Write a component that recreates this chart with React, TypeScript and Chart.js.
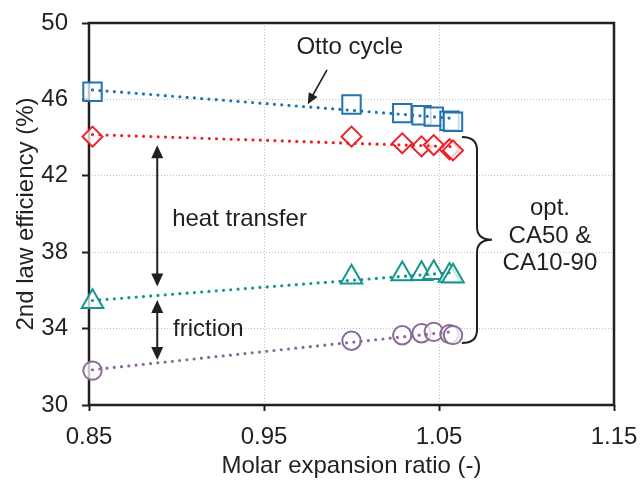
import { useEffect, useRef } from 'react';
import { Chart, registerables } from 'chart.js';

Chart.register(...registerables);

const INK = '#231f20';
const GRID = '#c2c2c2';
const FONT = "'Liberation Sans', Arial, Helvetica, sans-serif";

// Axis ticks
const xTicks = [0.85, 0.95, 1.05, 1.15];
const yTicks = [30, 34, 38, 42, 46, 50];

// Molar expansion ratio of each operating case (shared by all series)
const expansionRatio = [0.852, 1.0, 1.029, 1.04, 1.047, 1.056, 1.058];

// 2nd law efficiency (%) of each loss level
const ottoCycle = [46.4, 45.73, 45.28, 45.17, 45.1, 44.88, 44.83];
const optCombustion = [44.05, 44.05, 43.7, 43.54, 43.61, 43.39, 43.33];
const withHeatTransfer = [35.4, 36.69, 36.86, 36.87, 36.93, 36.78, 36.74];
const withFriction = [31.8, 33.36, 33.65, 33.76, 33.83, 33.71, 33.66];

const seriesValues = [ottoCycle, optCombustion, withHeatTransfer, withFriction];

// Marker styling per series
const seriesStyle = [
  { color: '#2373b1', shape: 'rect', radius: 13 },
  { color: '#ee2229', shape: 'rectRot', radius: 10 },
  { color: '#16968a', shape: 'triangle', radius: 12.5 },
  { color: '#8b6a97', shape: 'circle', radius: 9.2 },
];

function linearTrend(xs: number[], ys: number[]) {
  const n = xs.length;
  const mx = xs.reduce((a, b) => a + b, 0) / n;
  const my = ys.reduce((a, b) => a + b, 0) / n;
  let sxy = 0;
  let sxx = 0;
  for (let i = 0; i < n; i++) {
    sxy += (xs[i] - mx) * (ys[i] - my);
    sxx += (xs[i] - mx) * (xs[i] - mx);
  }
  const slope = sxy / sxx;
  const intercept = my - slope * mx;
  const lo = Math.min(...xs);
  const hi = Math.max(...xs);
  return [
    { x: lo, y: intercept + slope * lo },
    { x: hi, y: intercept + slope * hi },
  ];
}

function arrowHead(ctx: CanvasRenderingContext2D, tx: number, ty: number, fx: number, fy: number, len: number, half: number) {
  const a = Math.atan2(ty - fy, tx - fx);
  const bx = tx - Math.cos(a) * len;
  const by = ty - Math.sin(a) * len;
  ctx.beginPath();
  ctx.moveTo(tx, ty);
  ctx.lineTo(bx + Math.sin(a) * half, by - Math.cos(a) * half);
  ctx.lineTo(bx - Math.sin(a) * half, by + Math.cos(a) * half);
  ctx.closePath();
  ctx.fill();
}

function arrow(ctx: CanvasRenderingContext2D, x1: number, y1: number, x2: number, y2: number, both: boolean, len: number, half: number, width: number) {
  const a = Math.atan2(y2 - y1, x2 - x1);
  ctx.lineWidth = width;
  ctx.beginPath();
  ctx.moveTo(both ? x1 + Math.cos(a) * len * 0.8 : x1, both ? y1 + Math.sin(a) * len * 0.8 : y1);
  ctx.lineTo(x2 - Math.cos(a) * len * 0.8, y2 - Math.sin(a) * len * 0.8);
  ctx.stroke();
  arrowHead(ctx, x2, y2, x1, y1, len, half);
  if (both) arrowHead(ctx, x1, y1, x2, y2, len, half);
}

const framePlugin = {
  id: 'plotFrame',
  beforeDatasetsDraw(chart: any) {
    const { ctx, chartArea } = chart;
    const { left, right, top, bottom } = chartArea;
    ctx.save();
    ctx.strokeStyle = INK;
    ctx.lineWidth = 2.5;
    ctx.strokeRect(left, top, right - left, bottom - top);
    ctx.restore();
  },
};

const notesPlugin = {
  id: 'notes',
  afterDatasetsDraw(chart: any) {
    const { ctx } = chart;
    const px = (v: number) => chart.scales.x.getPixelForValue(v);
    const py = (v: number) => chart.scales.y.getPixelForValue(v);
    ctx.save();
    ctx.fillStyle = INK;
    ctx.strokeStyle = INK;
    ctx.font = `24px ${FONT}`;
    ctx.textBaseline = 'middle';

    // Otto cycle label and pointer
    ctx.textAlign = 'center';
    ctx.fillText('Otto cycle', px(0.999), py(48.7));
    arrow(ctx, px(0.986), py(47.55), px(0.975), py(45.75), false, 11, 5, 1.6);

    // Heat transfer gap
    arrow(ctx, px(0.889), py(43.6), px(0.889), py(36.2), true, 13, 6, 2);
    ctx.textAlign = 'left';
    ctx.fillText('heat transfer', px(0.8975), py(39.7));

    // Friction gap
    arrow(ctx, px(0.889), py(35.5), px(0.889), py(32.35), true, 13, 6, 2);
    ctx.fillText('friction', px(0.898), py(33.95));

    // Brace grouping the optimised-combustion cases
    const x0 = px(1.0631);
    const x1 = px(1.0717);
    const x2 = px(1.0803);
    const yt = py(44.03);
    const ym = py(38.65);
    const yb = py(33.25);
    const r = 13;
    ctx.lineWidth = 2;
    ctx.beginPath();
    ctx.moveTo(x0, yt);
    ctx.quadraticCurveTo(x1, yt, x1, yt + r);
    ctx.lineTo(x1, ym - r);
    ctx.quadraticCurveTo(x1, ym, x2, ym);
    ctx.quadraticCurveTo(x1, ym, x1, ym + r);
    ctx.lineTo(x1, yb - r);
    ctx.quadraticCurveTo(x1, yb, x0, yb);
    ctx.stroke();

    ctx.textAlign = 'center';
    const tx = px(1.1134);
    ctx.fillText('opt.', tx, py(40.31));
    ctx.fillText('CA50 &', tx, py(38.85));
    ctx.fillText('CA10-90', tx, py(37.43));
    ctx.restore();
  },
};

export default function App() {
  const ref = useRef<HTMLCanvasElement>(null);

  useEffect(() => {
    const markerSets = seriesValues.map((vals, i) => ({
      type: 'scatter' as const,
      data: expansionRatio.map((x, j) => ({ x, y: vals[j] })),
      showLine: false,
      clip: false,
      pointStyle: seriesStyle[i].shape,
      pointRadius: seriesStyle[i].radius,
      pointBorderWidth: 2,
      pointBorderColor: seriesStyle[i].color,
      pointBackgroundColor: 'rgba(255,255,255,0.75)',
      order: 2,
    }));
    const trendSets = seriesValues.map((vals, i) => ({
      type: 'scatter' as const,
      data: linearTrend(expansionRatio, vals),
      showLine: true,
      clip: false,
      pointRadius: 0,
      borderColor: seriesStyle[i].color,
      borderWidth: 3.2,
      borderDash: [0, 7.3],
      borderCapStyle: 'round',
      order: 1,
    }));

    const tickFont = { family: FONT, size: 24 };

    const chart = new Chart(ref.current as HTMLCanvasElement, {
      type: 'scatter',
      data: { datasets: [...markerSets, ...trendSets] as any },
      options: {
        animation: false,
        responsive: false,
        layout: { padding: { top: 23, right: 27, left: 0, bottom: 0 } },
        plugins: { legend: { display: false }, tooltip: { enabled: false } },
        scales: {
          x: {
            type: 'linear',
            min: 0.85,
            max: 1.15,
            afterBuildTicks: (s: any) => {
              s.ticks = xTicks.map((value) => ({ value }));
            },
            afterFit: (s: any) => {
              s.height = 76;
              s.paddingLeft = 0;
              s.paddingRight = 0;
            },
            ticks: {
              font: tickFont,
              color: INK,
              padding: 12,
              maxRotation: 0,
              autoSkip: false,
              callback: (v: any) => Number(v).toFixed(2),
            },
            grid: { color: GRID, lineWidth: 1, tickColor: INK, tickLength: 6, tickWidth: 2 },
            border: { display: false, dash: [1, 2] },
            title: {
              display: true,
              text: 'Molar expansion ratio (-)',
              font: tickFont,
              color: INK,
              padding: { top: 0, bottom: 0 },
            },
          },
          y: {
            type: 'linear',
            min: 30,
            max: 50,
            afterBuildTicks: (s: any) => {
              s.ticks = yTicks.map((value) => ({ value }));
            },
            afterFit: (s: any) => {
              s.width = 89;
              s.paddingTop = 0;
              s.paddingBottom = 0;
            },
            ticks: {
              font: tickFont,
              color: INK,
              padding: 14,
              autoSkip: false,
              callback: (v: any) => String(v),
            },
            grid: { color: GRID, lineWidth: 1, tickColor: INK, tickLength: 7, tickWidth: 2 },
            border: { display: false, dash: [1, 2] },
            title: {
              display: true,
              text: '2nd law efficiency (%)',
              font: tickFont,
              color: INK,
              padding: { top: 12, bottom: 0 },
            },
          },
        },
      },
      plugins: [framePlugin, notesPlugin],
    });
    return () => chart.destroy();
  }, []);

  return (
    <div style={{ position: 'fixed', left: 0, top: 0, width: 641, height: 481, background: '#fff' }}>
      <canvas ref={ref} width={641} height={481} style={{ display: 'block' }} />
    </div>
  );
}
